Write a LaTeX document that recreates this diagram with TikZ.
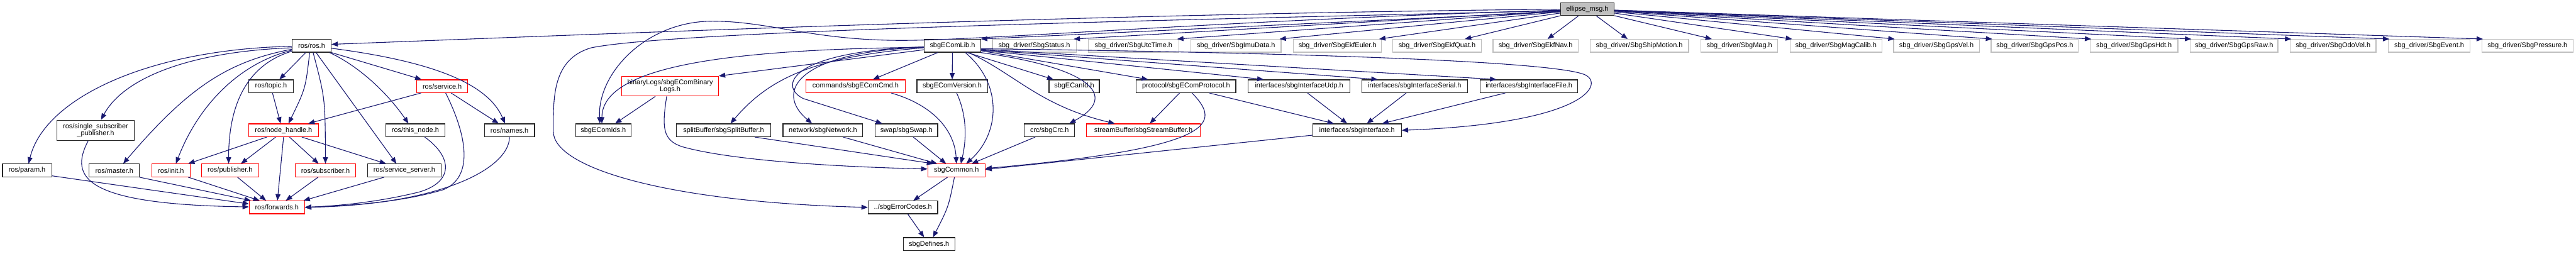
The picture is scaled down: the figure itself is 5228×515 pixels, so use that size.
\documentclass[tikz,border=0pt]{standalone}
\usepackage{fontspec}
\setmainfont{Liberation Sans}
\usetikzlibrary{arrows.meta}
\definecolor{edgec}{RGB}{25,25,112}
\definecolor{grayb}{RGB}{191,191,191}
\begin{document}
\begin{tikzpicture}[x=1pt,y=-1pt,
  nd/.style={draw, rectangle, line width=1.5pt, inner sep=0pt, minimum height=26pt, font=\fontsize{14}{15}\selectfont, align=center},
  bk/.style={nd, draw=black!85},
  rd/.style={nd, draw=red},
  gr/.style={nd, draw=grayb},
  e/.style={draw=edgec, line width=1.4pt, line join=round, -{Triangle[length=13pt,width=10pt]}}
]
\useasboundingbox (0,0) rectangle (5228,515);
% row 1
\node[bk, fill=grayb, minimum width=109pt] (ellipse) at (3221.5,18.7) {ellipse\_msg.h};
% row 2
\node[bk, minimum width=79pt] (ros) at (632.5,93) {ros/ros.h};
\node[bk, minimum width=114pt] (lib) at (1933,93) {sbgEComLib.h};
\node[gr, minimum width=170pt] (s1) at (2099,93) {sbg\_driver/SbgStatus.h};
\node[gr, minimum width=183pt] (s2) at (2300.5,93) {sbg\_driver/SbgUtcTime.h};
\node[gr, minimum width=183pt] (s3) at (2508.5,93) {sbg\_driver/SbgImuData.h};
\node[gr, minimum width=179pt] (s4) at (2714.5,93) {sbg\_driver/SbgEkfEuler.h};
\node[gr, minimum width=179pt] (s5) at (2916.5,93) {sbg\_driver/SbgEkfQuat.h};
\node[gr, minimum width=173pt] (s6) at (3116.5,93) {sbg\_driver/SbgEkfNav.h};
\node[gr, minimum width=200pt] (s7) at (3327,93) {sbg\_driver/SbgShipMotion.h};
\node[gr, minimum width=156pt] (s8) at (3530,93) {sbg\_driver/SbgMag.h};
\node[gr, minimum width=186pt] (s9) at (3726,93) {sbg\_driver/SbgMagCalib.h};
\node[gr, minimum width=174pt] (s10) at (3930,93) {sbg\_driver/SbgGpsVel.h};
\node[gr, minimum width=177pt] (s11) at (4129.5,93) {sbg\_driver/SbgGpsPos.h};
\node[gr, minimum width=178pt] (s12) at (4331,93) {sbg\_driver/SbgGpsHdt.h};
\node[gr, minimum width=178pt] (s13) at (4534,93) {sbg\_driver/SbgGpsRaw.h};
\node[gr, minimum width=174pt] (s14) at (4735,93) {sbg\_driver/SbgOdoVel.h};
\node[gr, minimum width=166pt] (s15) at (4930,93) {sbg\_driver/SbgEvent.h};
\node[gr, minimum width=185pt] (s16) at (5129.5,93) {sbg\_driver/SbgPressure.h};
% row 3
\node[bk, minimum width=90pt] (topic) at (550,175) {ros/topic.h};
\node[rd, minimum width=103pt] (service) at (897.5,175) {ros/service.h};
\node[rd, minimum width=196pt, minimum height=40pt] (bin) at (1360,175) {binaryLogs/sbgEComBinary\\Logs.h};
\node[rd, minimum width=201pt] (cmd) at (1736.5,175) {commands/sbgEComCmd.h};
\node[bk, minimum width=143pt] (ver) at (1932.5,175) {sbgEComVersion.h};
\node[bk, minimum width=102pt] (canid) at (2180,175) {sbgECanId.h};
\node[bk, minimum width=202pt] (proto) at (2407,175) {protocol/sbgEComProtocol.h};
\node[bk, minimum width=207pt] (udp) at (2636.5,175) {interfaces/sbgInterfaceUdp.h};
\node[bk, minimum width=214pt] (serial) at (2871,175) {interfaces/sbgInterfaceSerial.h};
\node[bk, minimum width=198pt] (file) at (3103,175) {interfaces/sbgInterfaceFile.h};
% row 4
\node[bk, minimum width=156pt, minimum height=41pt] (single) at (194,264.5) {ros/single\_subscriber\\\_publisher.h};
\node[rd, minimum width=141pt] (nh) at (575.5,264.5) {ros/node\_handle.h};
\node[bk, minimum width=120pt] (thisnode) at (843,264.5) {ros/this\_node.h};
\node[bk, minimum width=102pt] (names) at (1034,264.5) {ros/names.h};
\node[bk, minimum width=113pt] (ids) at (1224.5,264.5) {sbgEComIds.h};
\node[bk, minimum width=191pt] (split) at (1468.5,264.5) {splitBuffer/sbgSplitBuffer.h};
\node[bk, minimum width=162pt] (net) at (1670,264.5) {network/sbgNetwork.h};
\node[bk, minimum width=127pt] (swap) at (1839.5,264.5) {swap/sbgSwap.h};
\node[bk, minimum width=102pt] (crc) at (2130,264.5) {crc/sbgCrc.h};
\node[rd, minimum width=231pt] (sbuf) at (2320.5,264.5) {streamBuffer/sbgStreamBuffer.h};
\node[bk, minimum width=180pt] (iface) at (2754,264.5) {interfaces/sbgInterface.h};
% row 5
\node[bk, minimum width=100pt] (param) at (55,346) {ros/param.h};
\node[bk, minimum width=102pt] (master) at (232,346) {ros/master.h};
\node[rd, minimum width=78pt] (init) at (347,346) {ros/init.h};
\node[rd, minimum width=116pt] (pub) at (467,346) {ros/publisher.h};
\node[rd, minimum width=123pt] (sub) at (660.5,346) {ros/subscriber.h};
\node[bk, minimum width=149pt] (srv) at (820.5,346) {ros/service\_server.h};
\node[rd, minimum width=116pt] (common) at (1941,346) {sbgCommon.h};
% row 6
\node[rd, minimum width=112pt] (fwd) at (562,421) {ros/forwards.h};
\node[bk, minimum width=141pt] (errc) at (1832.5,421) {../sbgErrorCodes.h};
% row 7
\node[bk, minimum width=105pt] (defs) at (1885.5,495.5) {sbgDefines.h};

% ---- edges from ellipse_msg.h
\draw[e] (ellipse.west) .. controls (2200,28) and (1200,70) .. ([yshift=3]ros.east);
\draw[e] ([yshift=-5]ellipse.west) -- (lib.north east);
\draw[e] ([yshift=-2]ellipse.west) .. controls (2500,40) and (2000,82) .. (1830,82) .. controls (1650,82) and (1560,43) .. (1446,43) .. controls (1310,43) and (1212,150) .. ([xshift=-7]ids.north);
\draw[e] ([yshift=-3]ellipse.west) .. controls (2500,38) and (1380,60) .. (1200,97) .. controls (1120,120) and (1123,200) .. (1123,267) .. controls (1123,340) and (1350,410) .. (errc.west);
\draw[e] (ellipse) -- ([xshift=-6]s1.north east);
\draw[e] (ellipse) -- ([xshift=-4]s2.north east);
\draw[e] (ellipse) -- ([xshift=-4]s3.north east);
\draw[e] (ellipse) -- ([xshift=-6]s4.north east);
\draw[e] (ellipse) -- ([xshift=-34]s5.north east);
\draw[e] (ellipse) -- ([xshift=-63]s6.north east);
\draw[e] (ellipse) -- ([xshift=77]s7.north west);
\draw[e] (ellipse) -- ([xshift=23]s8.north west);
\draw[e] (ellipse) -- ([xshift=5]s9.north west);
\draw[e] (ellipse) -- ([xshift=3]s10.north west);
\draw[e] (ellipse) -- ([xshift=3]s11.north west);
\draw[e] (ellipse) -- ([xshift=3]s12.north west);
\draw[e] (ellipse) -- ([xshift=3]s13.north west);
\draw[e] (ellipse) -- ([xshift=3]s14.north west);
\draw[e] (ellipse) -- ([xshift=3]s15.north west);
\draw[e] (ellipse) -- ([xshift=3]s16.north west);

% ---- edges from sbgEComLib.h
\draw[e] ([yshift=-3]lib.west) .. controls (1500,100) and (1222,130) .. ([xshift=-3]ids.north);
\draw[e] ([yshift=-8]lib.west) -- (bin.north east);
\draw[e] ([xshift=-30]lib.south) -- ([xshift=35]cmd.north);
\draw[e] (lib.south) -- (ver.north);
\draw[e] ([xshift=26]lib.south) .. controls (2035,170) and (2030,270) .. ([xshift=20]common.north);
\draw[e] ([xshift=30]lib.south) -- ([xshift=-42]canid.north);
\draw[e] (lib.south east) .. controls (2230,140) and (2265,200) .. ([xshift=40]crc.north);
\draw[e] ([xshift=33]lib.south) .. controls (2060,150) and (2110,215) .. ([xshift=-58]sbuf.north);
\draw[e] ([yshift=-10]lib.east) -- ([xshift=-77]proto.north);
\draw[e] ([yshift=-9]lib.east) -- ([xshift=-72]udp.north);
\draw[e] ([yshift=-8]lib.east) -- ([xshift=-75]serial.north);
\draw[e] ([yshift=-7]lib.east) -- ([xshift=-66]file.north);
\draw[e] ([yshift=-6]lib.east) .. controls (2500,105) and (3120,120) .. (3212,150) .. controls (3260,165) and (3230,250) .. (iface.east);
\draw[e] ([yshift=-4]lib.west) .. controls (1650,115) and (1560,160) .. ([xshift=14]split.north);
\draw[e] ([yshift=-3]lib.west) .. controls (1620,105) and (1570,185) .. ([xshift=-22]net.north);
\draw[e] ([yshift=-2]lib.west) .. controls (1600,105) and (1580,175) .. (1630,200) -- ([xshift=-49]swap.north);

% ---- sbg lower part
\draw[e] ([xshift=-30]bin.south) -- ([xshift=24]ids.north);
\draw[e] ([xshift=-7]bin.south) .. controls (1343,260) and (1345,285) .. (1385,298) .. controls (1500,330) and (1750,340) .. ([yshift=3]common.west);
\draw[e] ([xshift=72]cmd.south) .. controls (1900,215) and (1938,270) .. (common.north);
\draw[e] ([xshift=9]ver.south) .. controls (1965,240) and (1960,290) .. ([xshift=9]common.north);
\draw[e] ([xshift=63]split.south) -- ([xshift=-47]common.north);
\draw[e] ([xshift=41]net.south) -- ([xshift=-39]common.north);
\draw[e] ([xshift=14]swap.south) -- ([xshift=-21]common.north);
\draw[e] ([xshift=-29]crc.south) -- ([xshift=31]common.north);
\draw[e] ([xshift=12]proto.south) .. controls (2480,250) and (2470,300) .. ([yshift=4]common.east);
\draw[e] ([yshift=-10]iface.west) -- ([yshift=2]common.east);
\draw[e] ([xshift=-13]proto.south) -- ([xshift=13]sbuf.north);
\draw[e] ([xshift=47]proto.south) -- ([xshift=-47]iface.north);
\draw[e] ([xshift=17]udp.south) -- ([xshift=-20]iface.north);
\draw[e] ([xshift=-17]serial.south) -- ([xshift=20]iface.north);
\draw[e] ([xshift=-48]file.south) -- ([xshift=51]iface.north);
\draw[e] ([xshift=-18]common.south) -- ([xshift=21]errc.north);
\draw[e] ([xshift=-4]common.south) .. controls (1925,420) .. ([xshift=8]defs.north);
\draw[e] ([xshift=10]errc.south) -- ([xshift=-10]defs.north);

% ---- edges from ros/ros.h
\draw[e] ([yshift=-1]ros.west) .. controls (300,100) and (90,200) .. ([xshift=3]param.north);
\draw[e] ([yshift=-4]ros.west) .. controls (380,105) and (250,160) .. ([xshift=11]single.north);
\draw[e] ([yshift=-7]ros.west) .. controls (460,125) and (380,180) .. ([xshift=18]master.north);
\draw[e] ([yshift=-9]ros.west) .. controls (480,130) and (400,220) .. ([xshift=10]init.north);
\draw[e] ([yshift=-11]ros.west) .. controls (490,135) and (464,230) .. ([xshift=-3]pub.north);
\draw[e] ([xshift=-12]ros.south) -- ([xshift=17]topic.north);
\draw[e] ([xshift=-4]ros.south) .. controls (620,180) .. ([xshift=10]nh.north);
\draw[e] ([xshift=3]ros.south) .. controls (660,200) .. (sub.north);
\draw[e] ([xshift=9]ros.south) -- ([xshift=-16]srv.north);
\draw[e] ([xshift=-4]ros.south east) .. controls (720,130) and (780,180) .. ([xshift=-14]thisnode.north);
\draw[e] (ros.south east) -- ([xshift=-42]service.north);
\draw[e] ([yshift=-5]ros.east) .. controls (880,125) and (990,170) .. ([xshift=-9]names.north);

% ---- ros lower part
\draw[e] ([xshift=3]topic.south) -- ([xshift=-6]nh.north);
\draw[e] ([xshift=-43]service.south) -- ([xshift=50]nh.north);
\draw[e] ([xshift=18]service.south) -- ([xshift=-22]names.north);
\draw[e] ([xshift=7]service.south) .. controls (950,280) and (960,360) .. (900,385) .. controls (800,415) and (680,418) .. (fwd.east);
\draw[e] ([xshift=19]thisnode.south) .. controls (920,320) and (920,370) .. (850,390) .. controls (760,412) and (680,418) .. (fwd.east);
\draw[e] (names.south) .. controls (1034,340) and (900,415) .. (fwd.east);
\draw[e] ([xshift=-41]srv.south) -- ([xshift=54]fwd.north);
\draw[e] ([xshift=-34]nh.south) -- ([xshift=35]init.north);
\draw[e] ([xshift=-16]nh.south) -- ([xshift=22]pub.north);
\draw[e] (nh.south) -- ([xshift=1]fwd.north);
\draw[e] ([xshift=12]nh.south) -- ([xshift=-14]sub.north);
\draw[e] ([xshift=37]nh.south) -- ([xshift=-37]srv.north);
\draw[e] ([yshift=-11]param.east) -- ([yshift=7]fwd.west);
\draw[e] ([xshift=51]master.south) -- ([xshift=-53]fwd.north);
\draw[e] ([xshift=35]init.south) -- ([xshift=-35]fwd.north);
\draw[e] ([xshift=15]pub.south) -- ([xshift=-22]fwd.north);
\draw[e] ([xshift=-15]sub.south) -- ([xshift=18]fwd.north);
\draw[e] ([xshift=-15]single.south) .. controls (140,360) and (170,415) .. ([yshift=1]fwd.west);
\end{tikzpicture}
\end{document}
